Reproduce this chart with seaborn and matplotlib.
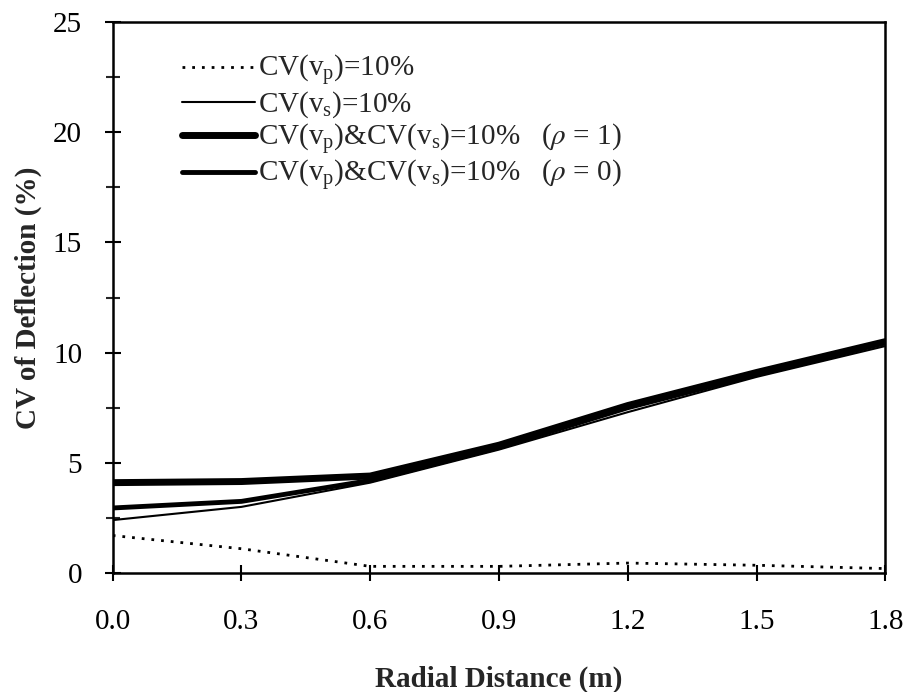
import matplotlib
matplotlib.use("Agg")
import matplotlib.pyplot as plt
import seaborn as sns
import pandas as pd
from matplotlib.ticker import MultipleLocator

x = [0.0, 0.3, 0.6, 0.9, 1.2, 1.5, 1.8]
cv_vp = [1.7, 1.1, 0.3, 0.3, 0.45, 0.35, 0.2]
cv_vs = [2.4, 3.0, 4.1, 5.6, 7.3, 8.9, 10.3]
cv_both_rho1 = [4.1, 4.15, 4.4, 5.8, 7.6, 9.1, 10.5]
cv_both_rho0 = [2.95, 3.25, 4.2, 5.7, 7.5, 9.0, 10.45]

labels = [
    r"CV($\mathregular{v_p}$)=10%",
    r"CV($\mathregular{v_s}$)=10%",
    r"CV($\mathregular{v_p}$)&CV($\mathregular{v_s}$)=10%   ($\rho$ = 1)",
    r"CV($\mathregular{v_p}$)&CV($\mathregular{v_s}$)=10%   ($\rho$ = 0)",
]

sns.set_theme(style="white")
plt.rcParams["font.family"] = ["Liberation Serif", "DejaVu Serif"]
plt.rcParams["mathtext.fontset"] = "stix"

fig = plt.figure(figsize=(9.09, 6.92), dpi=100)
ax = fig.add_axes([0.124, 0.172, 0.850, 0.796])

series = [cv_vp, cv_vs, cv_both_rho1, cv_both_rho0]
styles = [
    dict(lw=2.0, ls=(0, (1, 2.5))),
    dict(lw=1.5, ls="-"),
    dict(lw=5.0, ls="-"),
    dict(lw=3.5, ls="-"),
]
for vals, lab, st in zip(series, labels, styles):
    df = pd.DataFrame({"x": x, "y": vals})
    sns.lineplot(data=df, x="x", y="y", ax=ax, color="black", label=lab,
                 linewidth=st["lw"], linestyle=st["ls"])

ax.set_xlim(0, 1.8)
ax.set_ylim(0, 25)
ax.yaxis.set_major_locator(MultipleLocator(5))
ax.yaxis.set_minor_locator(MultipleLocator(2.5))
ax.set_xticks([0.0, 0.3, 0.6, 0.9, 1.2, 1.5, 1.8])
ax.set_xticklabels(["0.0", "0.3", "0.6", "0.9", "1.2", "1.5", "1.8"])
ax.tick_params(axis="both", which="major", direction="inout", length=12, width=1.5,
               labelsize=21, colors="black", left=True, bottom=True)
ax.tick_params(axis="y", which="major", pad=16)
ax.tick_params(axis="x", which="major", pad=20)
ax.tick_params(axis="y", which="minor", direction="inout", length=10, width=1.5, left=True)
for sp in ax.spines.values():
    sp.set_color("black")
    sp.set_linewidth(1.8)

ax.set_xlabel("Radial Distance (m)", fontsize=21, fontweight="bold", labelpad=22)
ax.set_ylabel("CV of Deflection (%)", fontsize=21, fontweight="bold", labelpad=8)

leg = ax.legend(loc="upper left", bbox_to_anchor=(0.075, 0.965), frameon=False,
                fontsize=21, handlelength=2.5, handletextpad=0.1, labelspacing=0.05,
                borderaxespad=0)

fig.savefig("out.png", dpi=100)
